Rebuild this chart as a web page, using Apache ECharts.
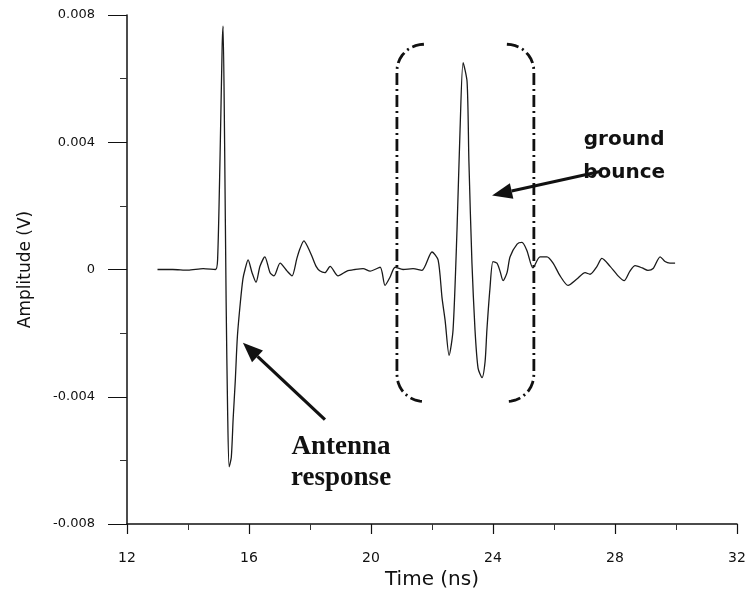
<!DOCTYPE html>
<html>
<head>
<meta charset="utf-8">
<script src="https://cdn.jsdelivr.net/npm/echarts@6/dist/echarts.min.js"></script>
<style>
    html, body { margin: 0; padding: 0; background: #fff; }
    #chart { width: 746px; height: 594px; }
</style>
</head>
<body>
<div id="chart"></div>
<script>
// waveform: time in ns, amplitude in V
const timeNs = [13.0, 13.5, 14.0, 14.5, 14.9, 14.97, 15.05, 15.12, 15.15, 15.2,
    15.25, 15.3, 15.35, 15.42, 15.48, 15.55, 15.62, 15.72, 15.8, 15.87,
    15.97, 16.10, 16.23, 16.36, 16.52, 16.69, 16.82, 17.02, 17.25, 17.41,
    17.57, 17.67, 17.80, 17.93, 18.07, 18.20, 18.33, 18.49, 18.66, 18.92,
    19.21, 19.48, 19.74, 19.97, 20.30, 20.46, 20.62, 20.79, 21.05, 21.38,
    21.67, 22.0, 22.2, 22.33, 22.43, 22.56, 22.69, 22.82, 22.92, 23.02,
    23.15, 23.21, 23.31, 23.41, 23.51, 23.64, 23.74, 23.80, 23.90, 24.0,
    24.13, 24.23, 24.33, 24.46, 24.56, 24.79, 24.95, 25.11, 25.31, 25.54,
    25.77, 25.97, 26.20, 26.46, 26.75, 27.02, 27.18, 27.41, 27.57, 27.84,
    28.10, 28.30, 28.49, 28.66, 28.89, 29.08, 29.25, 29.48, 29.64, 29.80,
    29.97];
const amplitudeV = [0, 0, -0.00002, 0.00003, 0, 0.0003, 0.0035, 0.007, 0.00765, 0.004,
    -0.001, -0.0045, -0.0062, -0.0059, -0.0047, -0.0035, -0.0021, -0.001, -0.0003, 0,
    0.0003, -0.0001, -0.0004, 0.0001, 0.0004, -0.0001, -0.0002, 0.0002, -0.00005, -0.0002,
    0.00035, 0.00065, 0.0009, 0.0007, 0.0004, 0.0001, -0.00005, -0.0001, 0.0001, -0.0002,
    -0.00005, 0, 0.00003, -0.00005, 0.00007, -0.0005, -0.00025, 0.00007, 0, 0.00003,
    -0.00003, 0.00055, 0.0003, -0.0009, -0.0016, -0.0027, -0.0019, 0.00125, 0.0044, 0.0065,
    0.0059, 0.0034, 0.0002, -0.0019, -0.0031, -0.0034, -0.0029, -0.0019, -0.0006, 0.00025,
    0.0002, -0.00005, -0.00035, -0.0001, 0.0004, 0.0008, 0.00085, 0.0006, 0.00005, 0.0004,
    0.0004, 0.0002, -0.0002, -0.0005, -0.0003, -0.0001, -0.00015, 0.0001, 0.00035, 0.0001,
    -0.0002, -0.00035, -0.00005, 0.00012, 0.00005, -0.00003, 0.00003, 0.0004, 0.00025, 0.0002,
    0.0002];

// x axis / y axis ticks
const xTicks = [12, 16, 20, 24, 28, 32];
const yTicks = [-0.008, -0.004, 0, 0.004, 0.008];

// annotations in data coords
const boxTime = [20.85, 25.34];
const boxAmp = [0.00708, -0.00415];
const groundArrow = [[27.51, 0.00308], [23.97, 0.00233]];
const antennaArrow = [[18.49, -0.00472], [15.80, -0.0023]];
const groundText = [[28.3, 0.00409], [28.3, 0.00305]];
const antennaText = [[19.02, -0.00557], [19.02, -0.00654]];

const chart = echarts.init(document.getElementById('chart'), null, {renderer: 'canvas'});
const fontSans = '"DejaVu Sans", "Liberation Sans", Arial, sans-serif';

let points = timeNs.map((t, i) => [t, amplitudeV[i]]);

chart.setOption({
    animation: false,
    backgroundColor: '#fff',
    grid: {left: 127, right: 9, top: 15, bottom: 70, containLabel: false, outerBoundsMode: 'none'},
    xAxis: {
        type: 'value',
        min: xTicks[0],
        max: xTicks[xTicks.length - 1],
        interval: 4,
        name: 'Time (ns)',
        nameLocation: 'middle',
        nameGap: 46,
        nameTextStyle: {fontFamily: fontSans, fontSize: 20, color: '#111'},
        axisLine: {onZero: false, lineStyle: {color: '#111', width: 1.5}},
        axisTick: {length: 10, lineStyle: {color: '#111', width: 1.2}},
        minorTick: {show: true, splitNumber: 2, length: 6, lineStyle: {color: '#333'}},
        axisLabel: {margin: 27, fontFamily: fontSans, fontSize: 14, color: '#111'},
        splitLine: {show: false}
    },
    yAxis: {
        type: 'value',
        min: yTicks[0],
        max: yTicks[yTicks.length - 1],
        interval: 0.004,
        name: 'Amplitude (V)',
        nameLocation: 'middle',
        nameGap: 93,
        nameTextStyle: {fontFamily: fontSans, fontSize: 17, color: '#111'},
        axisLine: {onZero: false, lineStyle: {color: '#111', width: 1.5}},
        axisTick: {length: 19, lineStyle: {color: '#111', width: 1}},
        minorTick: {show: true, splitNumber: 2, length: 7, lineStyle: {color: '#333'}},
        axisLabel: {
            margin: 32, fontFamily: fontSans, fontSize: 13, color: '#111',
            formatter: v => (Math.abs(v) < 1e-9 ? '0' : v.toFixed(3))
        },
        splitLine: {show: false}
    },
    series: [{
        type: 'line',
        data: points,
        showSymbol: false,
        smooth: 0.25,
        lineStyle: {color: '#1a1a1a', width: 1.3}
    }]
});

function px(p) {
    return chart.convertToPixel({gridIndex: 0}, p);
}

function arrow(from, to) {
    let a = px(from), b = px(to);
    let ang = Math.atan2(b[1] - a[1], b[0] - a[0]);
    let hl = 20, hw = 8;
    let base = [b[0] - hl * Math.cos(ang), b[1] - hl * Math.sin(ang)];
    let nx = -Math.sin(ang), ny = Math.cos(ang);
    return [
        {type: 'line', shape: {x1: a[0], y1: a[1], x2: base[0], y2: base[1]},
            style: {stroke: '#111', lineWidth: 3.2}},
        {type: 'polygon', shape: {points: [b, [base[0] + nx * hw, base[1] + ny * hw], [base[0] - nx * hw, base[1] - ny * hw]]},
            style: {fill: '#111'}}
    ];
}

function bracket(side) {
    let tl = px([boxTime[0], boxAmp[0]]), br = px([boxTime[1], boxAmp[1]]);
    let r = 27, n = 10, pts = [];
    let x = side < 0 ? tl[0] : br[0];
    let top = tl[1], bot = br[1];
    // top corner then bottom corner
    for (let i = 0; i <= n; i++) {
        let t = Math.PI / 2 * i / n;
        pts.push([x - side * r + side * r * Math.sin(t), top + r - r * Math.cos(t)]);
    }
    for (let i = 0; i <= n; i++) {
        let t = Math.PI / 2 * i / n;
        pts.push([x - side * r + side * r * Math.cos(t), bot - r + r * Math.sin(t)]);
    }
    return {type: 'polyline', shape: {points: pts},
        style: {stroke: '#111', lineWidth: 2.8, fill: null, lineDash: [12, 4, 2, 4]}};
}

function label(pos, text, font) {
    let p = px(pos);
    return {type: 'text', x: p[0], y: p[1],
        style: {text: text, font: font, fill: '#111', align: 'center', verticalAlign: 'middle'}};
}

let serifBold = 'bold 27px "Liberation Serif", "Times New Roman", serif';
let sansBold = 'bold 20px "DejaVu Sans", Arial, sans-serif';

chart.setOption({
    graphic: [
        bracket(-1), bracket(1),
        ...arrow(groundArrow[0], groundArrow[1]),
        ...arrow(antennaArrow[0], antennaArrow[1]),
        label(groundText[0], 'ground', sansBold),
        label(groundText[1], 'bounce', sansBold),
        label(antennaText[0], 'Antenna', serifBold),
        label(antennaText[1], 'response', serifBold)
    ]
});
</script>
</body>
</html>
